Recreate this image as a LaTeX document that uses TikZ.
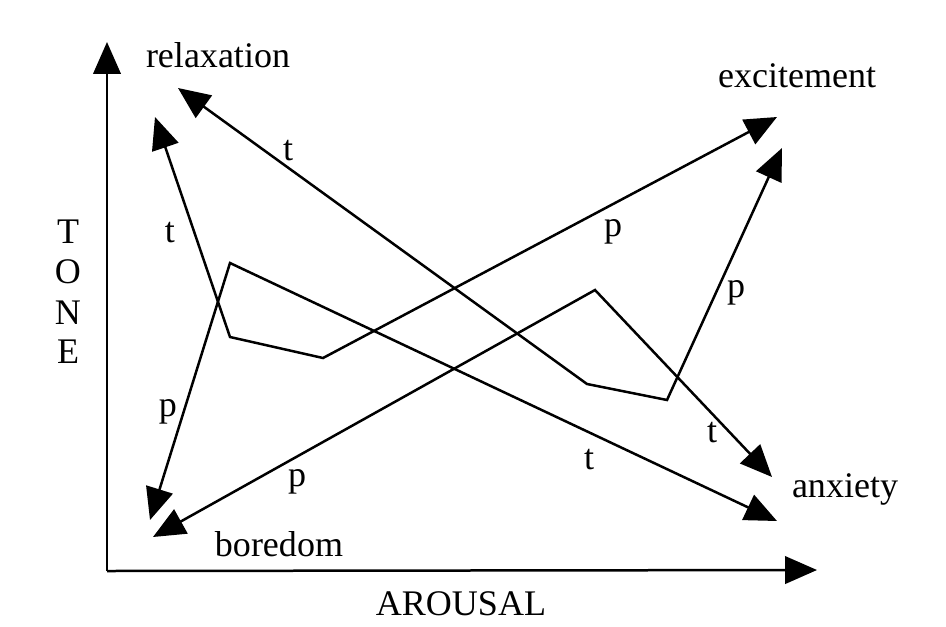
\documentclass[tikz,border=0pt]{standalone}
\usepackage{fontspec}
\setmainfont{Liberation Serif}
\usetikzlibrary{arrows.meta}

\begin{document}
\begin{tikzpicture}[x=0.02cm,y=-0.02cm,line width=0.05cm,
    >={Triangle[length=0.64cm,width=0.55cm]},
    every node/.style={font=\fontsize{20.5}{24}\selectfont,inner sep=0pt},
    word/.style={anchor=base}]
  \useasboundingbox (0,0) rectangle (946,626);
  % axes
  \coordinate (origin) at (107,571);
  \coordinate (ytip) at (107,42);
  \coordinate (xtip) at (817,570);
  \draw[->] (origin) -- (ytip);
  \draw[->] (origin) -- (xtip);
  \node[word] (arousal) at (461,615) {AROUSAL};
  \foreach \l/\y in {T/232,O/272,N/313,E/352}{\node (tone\l) at (68,\y) {\l};}
  % states
  \node[word] (relaxation) at (218,67) {relaxation};
  \node[word] (excitement) at (797,87) {excitement};
  \node[word] (anxiety) at (845,497) {anxiety};
  \node[word] (boredom) at (279,556) {boredom};
  % arrow ends and kinks
  \coordinate (relaxA) at (178,88);  \coordinate (relaxB) at (155,117);
  \coordinate (exciteA) at (777,117); \coordinate (exciteB) at (782,148);
  \coordinate (anxA) at (772,477);   \coordinate (anxB) at (777,521);
  \coordinate (boreA) at (150,520);  \coordinate (boreB) at (153,537);
  \coordinate (kinkA) at (587,384);  \coordinate (kinkB) at (667,400);
  \coordinate (kinkC) at (230,337);  \coordinate (kinkD) at (323,358);
  \coordinate (peakA) at (595,290);  \coordinate (peakB) at (230,263);
  \draw[<->] (relaxA) -- (kinkA) -- (kinkB) -- (exciteB);
  \draw[<->] (relaxB) -- (kinkC) -- (kinkD) -- (exciteA);
  \draw[<->] (boreB) -- (peakA) -- (anxA);
  \draw[<->] (boreA) -- (peakB) -- (anxB);
  % transition labels
  \node (t1) at (288,151) {t};
  \node (t2) at (170,233) {t};
  \node (t3) at (712,433) {t};
  \node (t4) at (589,460) {t};
  \node (p1) at (613,232) {p};
  \node (p2) at (736,293) {p};
  \node (p3) at (168,412) {p};
  \node (p4) at (297,482) {p};
\end{tikzpicture}
\end{document}
